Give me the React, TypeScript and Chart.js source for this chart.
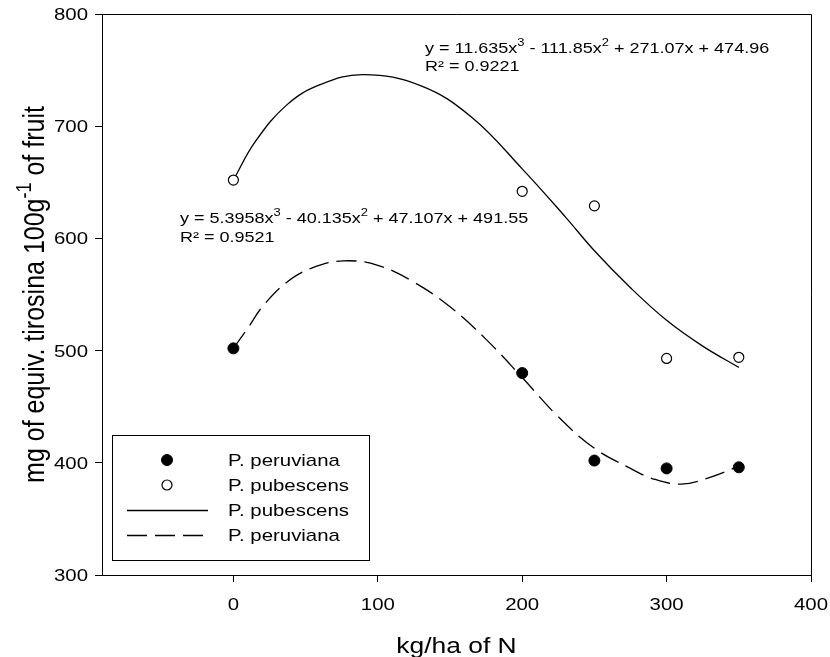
import { useEffect, useRef } from 'react';
import { Chart, registerables } from 'chart.js';

Chart.register(...registerables);

const FONT = '"Liberation Sans", Arial, Helvetica, sans-serif';
const SX = 1.2; // horizontal stretch of the reference's lettering

// Observed data (kg/ha of N)
const doses = [0, 200, 250, 300, 350];
const peruviana = [502, 480, 402, 395, 396];
const pubescens = [652, 642, 629, 493, 494];

// Fitted curves
const fitPubX = [0, 15, 37, 60, 90, 130, 165, 200, 230, 250, 275, 300, 325, 350];
const fitPubY = [652, 686, 719, 737, 746, 736, 708, 662, 619, 589, 556, 527, 504, 485];
const fitPerX = [0, 10, 20, 37, 55, 76, 100, 125, 150, 175, 200, 225, 250, 275, 290, 310, 330, 350];
const fitPerY = [502, 520, 539, 561, 574, 580, 576, 561, 539, 510, 476, 441, 413, 395, 386, 381, 387, 397];

const xTicks = [0, 100, 200, 300, 400];
const yTicks = [300, 400, 500, 600, 700, 800];

const seriesNames = ['P. peruviana', 'P. pubescens', 'P. pubescens', 'P. peruviana'];

type Seg = { t: string; sup?: boolean };
const eqPub: Seg[] = [
  { t: 'y = 11.635x' }, { t: '3', sup: true }, { t: ' - 111.85x' }, { t: '2', sup: true },
  { t: ' + 271.07x + 474.96' },
];
const r2Pub: Seg[] = [{ t: 'R² = 0.9221' }];
const eqPer: Seg[] = [
  { t: 'y = 5.3958x' }, { t: '3', sup: true }, { t: ' - 40.135x' }, { t: '2', sup: true },
  { t: ' + 47.107x + 491.55' },
];
const r2Per: Seg[] = [{ t: 'R² = 0.9521' }];
const yTitle: Seg[] = [
  { t: 'mg of equiv. tirosina 100g' }, { t: '-1', sup: true }, { t: ' of fruit' },
];
const xTitle = 'kg/ha of N';

function drawRich(
  ctx: CanvasRenderingContext2D, segs: Seg[], x: number, y: number, size: number,
  align: 'left' | 'center' | 'right', sx = SX,
) {
  ctx.save();
  ctx.translate(x, y);
  ctx.scale(sx, 1);
  const widths = segs.map((s) => {
    ctx.font = `${s.sup ? size * 0.72 : size}px ${FONT}`;
    return ctx.measureText(s.t).width;
  });
  const total = widths.reduce((a, b) => a + b, 0);
  let cx = align === 'center' ? -total / 2 : align === 'right' ? -total : 0;
  ctx.textAlign = 'left';
  ctx.textBaseline = 'alphabetic';
  segs.forEach((s, i) => {
    ctx.font = `${s.sup ? size * 0.72 : size}px ${FONT}`;
    ctx.fillText(s.t, cx, s.sup ? -size * 0.45 : 0);
    cx += widths[i];
  });
  ctx.restore();
}

const decorPlugin = {
  id: 'decor',
  afterDraw(chart: any) {
    const ctx: CanvasRenderingContext2D = chart.ctx;
    const { left, right, top, bottom } = chart.chartArea;
    const xs = chart.scales.x;
    const ys = chart.scales.y;
    ctx.save();
    // frame top & right
    ctx.strokeStyle = '#000';
    ctx.lineWidth = 1;
    ctx.beginPath();
    ctx.moveTo(left, top + 0.5);
    ctx.lineTo(right + 0.5, top + 0.5);
    ctx.lineTo(right + 0.5, bottom);
    ctx.stroke();

    ctx.fillStyle = '#000';
    // tick labels
    xTicks.forEach((v) => drawRich(ctx, [{ t: String(v) }], xs.getPixelForValue(v), 610, 17, 'center'));
    yTicks.forEach((v) => drawRich(ctx, [{ t: String(v) }], 88, ys.getPixelForValue(v) + 6, 17, 'right'));

    // equations
    drawRich(ctx, eqPub, 425, 53, 15, 'left');
    drawRich(ctx, r2Pub, 425, 71, 15, 'left');
    drawRich(ctx, eqPer, 180, 223, 15, 'left');
    drawRich(ctx, r2Per, 180, 242, 15, 'left');

    // axis titles
    drawRich(ctx, [{ t: xTitle }], (left + right) / 2, 653, 22, 'center');
    ctx.save();
    ctx.translate(44, (top + bottom) / 2);
    ctx.rotate(-Math.PI / 2);
    ctx.scale(1, SX);
    drawRich(ctx, yTitle, 0, 0, 25, 'center', 1);
    ctx.restore();

    // legend
    const bx = 112, by = 435, bw = 257, bh = 125;
    ctx.strokeStyle = '#000';
    ctx.lineWidth = 1;
    ctx.strokeRect(bx + 0.5, by + 0.5, bw, bh);
    const rowY = [460, 485, 510, 535];
    const ds = chart.data.datasets;
    ds.forEach((d: any, i: number) => {
      const cy = rowY[i];
      if (d.showLine === false) {
        ctx.beginPath();
        ctx.arc(167, cy, d.pointRadius, 0, Math.PI * 2);
        ctx.fillStyle = d.pointBackgroundColor;
        ctx.fill();
        ctx.lineWidth = d.pointBorderWidth;
        ctx.strokeStyle = d.pointBorderColor;
        ctx.stroke();
      } else {
        ctx.beginPath();
        ctx.setLineDash(d.borderDash || []);
        ctx.lineWidth = d.borderWidth;
        ctx.strokeStyle = d.borderColor;
        ctx.moveTo(127, cy + 0.5);
        ctx.lineTo(208, cy + 0.5);
        ctx.stroke();
        ctx.setLineDash([]);
      }
      ctx.fillStyle = '#000';
      drawRich(ctx, [{ t: seriesNames[i] }], 228, cy + 6, 17, 'left');
    });
    ctx.restore();
  },
};

export default function App() {
  const ref = useRef<HTMLCanvasElement>(null);
  useEffect(() => {
    if (!ref.current) return;
    const chart = new Chart(ref.current, {
      type: 'scatter',
      data: {
        datasets: [
          {
            label: seriesNames[0],
            data: doses.map((x, i) => ({ x, y: peruviana[i] })),
            showLine: false,
            pointRadius: 5.5,
            pointBackgroundColor: '#000',
            pointBorderColor: '#000',
            pointBorderWidth: 1,
            order: 0,
          },
          {
            label: seriesNames[1],
            data: doses.map((x, i) => ({ x, y: pubescens[i] })),
            showLine: false,
            pointRadius: 5,
            pointBackgroundColor: '#fff',
            pointBorderColor: '#000',
            pointBorderWidth: 1.2,
            order: 0,
          },
          {
            label: seriesNames[2],
            data: fitPubX.map((x, i) => ({ x, y: fitPubY[i] })),
            showLine: true,
            pointRadius: 0,
            borderColor: '#000',
            borderWidth: 1.3,
            tension: 0.4,
            fill: false,
            order: 1,
          },
          {
            label: seriesNames[3],
            data: fitPerX.map((x, i) => ({ x, y: fitPerY[i] })),
            showLine: true,
            pointRadius: 0,
            borderColor: '#000',
            borderWidth: 1.3,
            borderDash: [20, 8],
            tension: 0.4,
            fill: false,
            order: 1,
          },
        ],
      } as any,
      options: {
        animation: false,
        responsive: false,
        events: [],
        layout: { padding: { top: 14, right: 19, left: 0, bottom: 0 } },
        plugins: { legend: { display: false }, tooltip: { enabled: false }, title: { display: false } },
        scales: {
          x: {
            type: 'linear',
            min: -91,
            max: 400,
            afterBuildTicks: (s: any) => { s.ticks = xTicks.map((v) => ({ value: v })); },
            afterFit: (s: any) => { s.height = 82; },
            ticks: { display: false },
            grid: { drawOnChartArea: false, drawTicks: true, tickLength: 7, color: '#000', lineWidth: 1 },
            border: { display: true, color: '#000', width: 1 },
          },
          y: {
            type: 'linear',
            min: 300,
            max: 800,
            afterBuildTicks: (s: any) => { s.ticks = yTicks.map((v) => ({ value: v })); },
            afterFit: (s: any) => { s.width = 102; },
            ticks: { display: false },
            grid: { drawOnChartArea: false, drawTicks: true, tickLength: 7, color: '#000', lineWidth: 1 },
            border: { display: true, color: '#000', width: 1 },
          },
        },
      } as any,
      plugins: [decorPlugin],
    });
    return () => chart.destroy();
  }, []);
  return (
    <canvas
      ref={ref}
      width={830}
      height={657}
      style={{ position: 'absolute', left: 0, top: 0, width: 830, height: 657 }}
    />
  );
}
